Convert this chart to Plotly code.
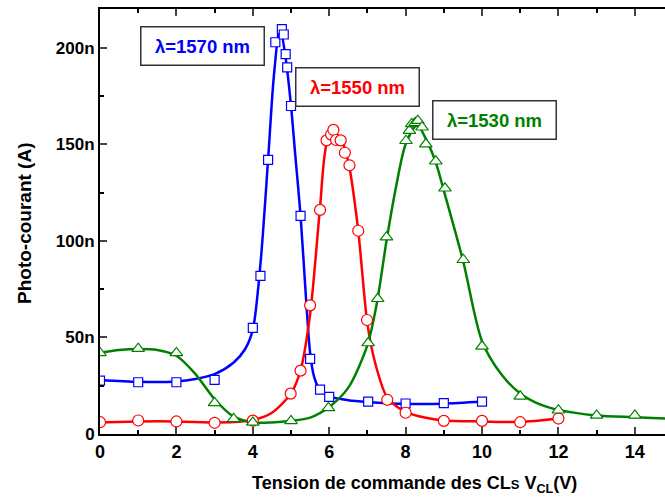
import plotly.graph_objects as go

# ---- measured points ----
blue_x = [0, 1, 2, 3, 4, 4.2, 4.4, 4.59, 4.76, 4.81, 4.86, 4.9, 5.0, 5.25, 5.5, 5.76, 6.0, 7.02, 8, 9, 10]
blue_y = [27.6, 26.8, 26.8, 28, 54.9, 81.9, 141.9, 202.8, 209.6, 206.8, 196.6, 189.8, 169.8, 112.9, 38.9, 23, 19.2, 16.8, 15.8, 16, 16.8]

red_x = [0, 1, 2, 3, 4, 4.99, 5.25, 5.5, 5.76, 5.93, 6.05, 6.11, 6.18, 6.3, 6.41, 6.53, 6.76, 6.99, 7.52, 8, 9, 10, 11, 12]
red_y = [6.1, 7, 6.5, 5.8, 6.9, 20.9, 32.8, 66.6, 116, 152, 155, 157.4, 152.2, 152, 145.6, 139.1, 105.2, 59, 17.7, 11, 6.8, 6.8, 6.1, 8]

green_x = [0, 1, 2, 3, 3.5, 4, 5, 5.98, 7.02, 7.27, 7.5, 8.01, 8.1, 8.16, 8.25, 8.32, 8.43, 8.53, 8.79, 9.03, 9.51, 10, 11, 12, 13, 14]
green_y = [42, 44.2, 42, 16.1, 7.8, 6, 6.8, 13.5, 47.1, 70, 101.9, 151.8, 157, 160.5, 161.1, 162.2, 158.8, 150.1, 141.2, 127.2, 90.2, 45.4, 19.5, 12.3, 9.6, 9.6]

# ---- fitted curves ----
blue_fit_x = [0, 1, 2, 2.5, 3, 3.5, 3.8, 4.0, 4.2, 4.4, 4.55, 4.71, 4.85, 5.0, 5.1, 5.25, 5.4, 5.5, 5.6, 5.75, 6.0, 6.5, 7, 8, 9, 10]
blue_fit_y = [28, 27, 27.2, 28.5, 31, 37, 44, 54, 88, 142, 185, 210.5, 196, 170, 147, 113, 68, 42, 30, 23, 19.5, 17.5, 16.6, 15.6, 15.7, 16.8]

red_fit_x = [0, 1, 2, 3, 3.5, 4, 4.5, 5, 5.25, 5.5, 5.75, 5.93, 6.1, 6.3, 6.5, 6.75, 7.0, 7.2, 7.5, 7.75, 8, 8.5, 9, 10, 11, 12]
red_fit_y = [6, 6.5, 6.5, 6, 6.2, 7.2, 11, 21, 33, 62, 115, 150, 156, 153, 141, 107, 57, 37, 19.5, 14.5, 11.5, 8.5, 7, 6.5, 6.2, 8]

green_fit_x = [0, 0.5, 1, 1.5, 2, 2.5, 3, 3.5, 4, 4.5, 5, 5.5, 6, 6.5, 7, 7.25, 7.5, 7.75, 8, 8.3, 8.55, 8.8, 9, 9.5, 10, 10.5, 11, 11.5, 12, 13, 14, 14.8]
green_fit_y = [42, 43.5, 44, 43.5, 40.5, 31, 18, 9, 6, 6, 6.8, 8.5, 14, 24, 46, 68, 100, 128, 150, 160, 152, 140, 126, 90, 48, 31, 21, 15.5, 12.5, 9.6, 8.7, 8]

y_tickvals = [0, 50, 100, 150, 200]
y_ticktext = ["0", "50n", "100n", "150n", "200n"]
x_tickvals = [0, 2, 4, 6, 8, 10, 12, 14]

BLUE, RED, GREEN = "#0000ff", "#ff0000", "#008000"
FONT = "Liberation Sans, Arial, sans-serif"

fig = go.Figure()
for fx, fy, c in [(blue_fit_x, blue_fit_y, BLUE), (red_fit_x, red_fit_y, RED), (green_fit_x, green_fit_y, GREEN)]:
    fig.add_trace(go.Scatter(x=fx, y=fy, mode="lines", line=dict(color=c, width=2.5, shape="spline", smoothing=0.8),
                             showlegend=False, hoverinfo="skip"))
for px, py, c, sym, sz in [(blue_x, blue_y, BLUE, "square", 9), (red_x, red_y, RED, "circle", 11),
                           (green_x, green_y, GREEN, "triangle-up", 11)]:
    fig.add_trace(go.Scatter(x=px, y=py, mode="markers",
                             marker=dict(symbol=sym, size=sz, color="white", line=dict(color=c, width=1.2)),
                             showlegend=False))

def box(text, color, cx, cy):
    fig.add_annotation(text=f"<b>{text}</b>", x=(cx - 100) / 565, y=(434 - cy) / 425, xref="paper", yref="paper",
                       xanchor="center", yanchor="middle",
                       showarrow=False, font=dict(family=FONT, size=18.5, color=color),
                       bgcolor="white", bordercolor="#333333", borderwidth=1.5, width=120, height=35, borderpad=1)

box("λ=1570 nm", BLUE, 202, 46)
box("λ=1550 nm", RED, 357, 87)
box("λ=1530 nm", GREEN, 494, 120)

fig.add_annotation(text="<b>Tension de commande des CL<span style='font-size:13px'>S</span> V<sub>CL</sub>(V)</b>",
                   x=(414 - 100) / 565, y=(434 - 484) / 425, xref="paper", yref="paper", showarrow=False,
                   xanchor="center", yanchor="middle",
                   font=dict(family=FONT, size=18, color="black"))
fig.add_annotation(text="<b>Photo-courant (A)</b>", textangle=-90,
                   x=(24 - 100) / 565, y=(434 - 224) / 425, xref="paper", yref="paper", showarrow=False,
                   xanchor="center", yanchor="middle",
                   font=dict(family=FONT, size=19, color="black"))

fig.update_layout(
    width=665, height=503, margin=dict(l=100, r=0, t=9, b=69),
    plot_bgcolor="white", paper_bgcolor="white",
    font=dict(family=FONT, color="black"),
    xaxis=dict(range=[0, 14.79], tickvals=x_tickvals, ticks="inside", ticklen=7, tickwidth=1.5,
               showline=True, linecolor="black", linewidth=2, mirror="ticks", showgrid=False, zeroline=False,
               tickfont=dict(family=FONT, size=18, weight="bold"),
               minor=dict(dtick=1, ticks="inside", ticklen=4, tickwidth=1.5, tickcolor="black")),
    yaxis=dict(range=[0, 220], tickvals=y_tickvals, ticktext=y_ticktext, ticks="inside", ticklen=7, tickwidth=1.5,
               showline=True, linecolor="black", linewidth=2, showgrid=False, zeroline=False,
               tickfont=dict(family=FONT, size=17, weight="bold"),
               minor=dict(tickvals=[25, 75, 125, 175], ticks="inside", ticklen=4, tickwidth=1.5, tickcolor="black")),
)

fig.write_html("out.html", config={"displayModeBar": False},
               post_script="document.body.style.margin='0px';")
